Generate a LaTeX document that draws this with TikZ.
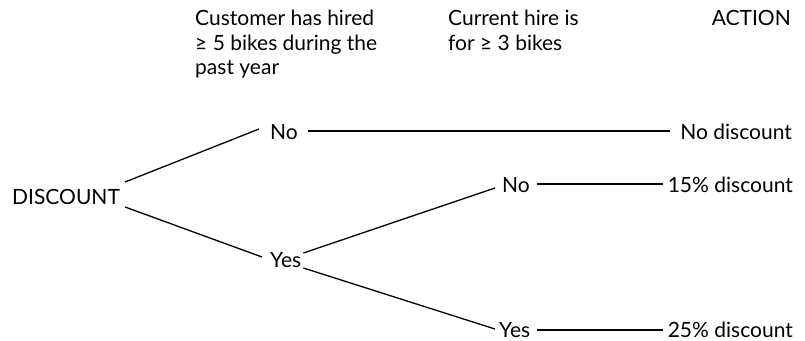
\documentclass[tikz,border=0pt]{standalone}
\usepackage{fontspec}
\setmainfont{Lato}
\begin{document}
\begin{tikzpicture}[x=1bp,y=-1bp,
  lbl/.style={inner sep=0pt, font=\fontsize{21bp}{24.5bp}\selectfont},
  ln/.style={line width=1.3bp, black}]
\useasboundingbox (0,0) rectangle (805,340);
\fill[white] (0,0) rectangle (805,340);
% headers
\node[lbl, anchor=north west, align=left] (hA) at (195,10) {Customer has hired\\≥ 5 bikes during the\\past year};
\node[lbl, anchor=north west, align=left] (hB) at (448,10) {Current hire is\\for ≥ 3 bikes};
\node[lbl, anchor=base east] (hC) at (791,25) {ACTION};
% tree nodes
\node[lbl, anchor=base west] (root) at (12,204) {DISCOUNT};
\node[lbl, anchor=base west] (no1) at (270,139) {No};
\node[lbl, anchor=base west] (yes1) at (270,267) {Yes};
\node[lbl, anchor=base west] (no2) at (502,192) {No};
\node[lbl, anchor=base west] (yes2) at (499,337) {Yes};
\node[lbl, anchor=base east] (r1) at (792,139) {No discount};
\node[lbl, anchor=base east] (r2) at (793,192) {15\% discount};
\node[lbl, anchor=base east] (r3) at (793,337) {25\% discount};
% connectors
\draw[ln] ([shift={(5,-22)}]root.base east) -- ([shift={(-11,-10)}]no1.base west);
\draw[ln] ([shift={(5,3)}]root.base east) -- ([shift={(-8,-10)}]yes1.base west);
\draw[ln] ([shift={(2,-14)}]yes1.base east) -- ([shift={(-7,-4)}]no2.base west);
\draw[ln] ([shift={(2,1)}]yes1.base east) -- ([shift={(-4,-8)}]yes2.base west);
\draw[ln] ([shift={(10,-8)}]no1.base east) -- ([shift={(-10,-8)}]r1.base west);
\draw[ln] ([shift={(7,-8)}]no2.base east) -- ([shift={(-5,-8)}]r2.base west);
\draw[ln] ([shift={(7,-7)}]yes2.base east) -- ([shift={(-5,-7)}]r3.base west);
\end{tikzpicture}
\end{document}
